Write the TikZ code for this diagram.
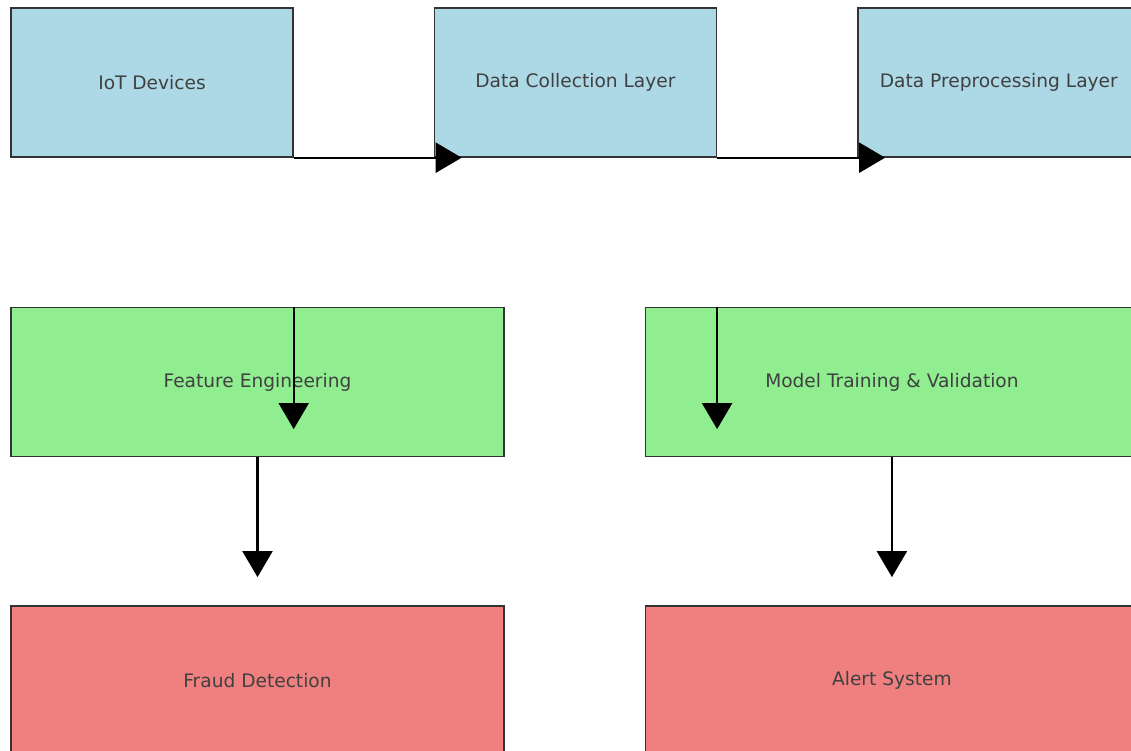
\documentclass[tikz,border=0pt]{standalone}
\usepackage{fontspec}
\setmainfont{DejaVu Sans}
\usepackage{tikz}
\usetikzlibrary{arrows.meta,positioning}
\definecolor{boxblue}{HTML}{ADD8E6}
\definecolor{boxgreen}{HTML}{90EE90}
\definecolor{boxred}{HTML}{F08080}
\definecolor{boxline}{HTML}{333333}
\definecolor{boxtext}{HTML}{404040}

\begin{document}
\begin{tikzpicture}[
x=1pt,y=-1pt,
box/.style={draw=boxline,line width=1.4pt,inner sep=0pt,minimum height=149pt,text=boxtext,font=\fontsize{18.6}{22}\selectfont},
small/.style={box,minimum width=282pt},
wide/.style={box,minimum width=493pt},
arrow/.style={-{Triangle[length=26pt,width=30pt]},line width=2.2pt}
]
\useasboundingbox (0,0) rectangle (1131,751);
\clip (0,0) rectangle (1131,751);
\node[small,fill=boxblue] (iot) at (152,82.5) {IoT Devices};
\node[small,fill=boxblue,right=140pt of iot] (collect) {Data Collection Layer};
\node[small,fill=boxblue,right=140pt of collect] (prep) {Data Preprocessing Layer};
\node[wide,fill=boxgreen,below=149pt of iot.south west,anchor=north west] (feat) {Feature Engineering};
\node[wide,fill=boxgreen,right=140pt of feat] (model) {Model Training \& Validation};
\node[wide,fill=boxred,below=148pt of feat] (fraud) {Fraud Detection};
\node[wide,fill=boxred,right=140pt of fraud] (alert) {Alert System};
\draw[arrow] (iot.south east) -- ([xshift=28pt]collect.south west);
\draw[arrow] (collect.south east) -- ([xshift=28pt]prep.south west);
\draw[arrow] (feat.north -| iot.east) -- ([yshift=28pt]feat.south -| iot.east);
\draw[arrow] (model.north -| collect.east) -- ([yshift=28pt]model.south -| collect.east);
\draw[arrow] (feat.south) -- ([yshift=28pt]fraud.north);
\draw[arrow] (model.south) -- ([yshift=28pt]alert.north);
\end{tikzpicture}
\end{document}
